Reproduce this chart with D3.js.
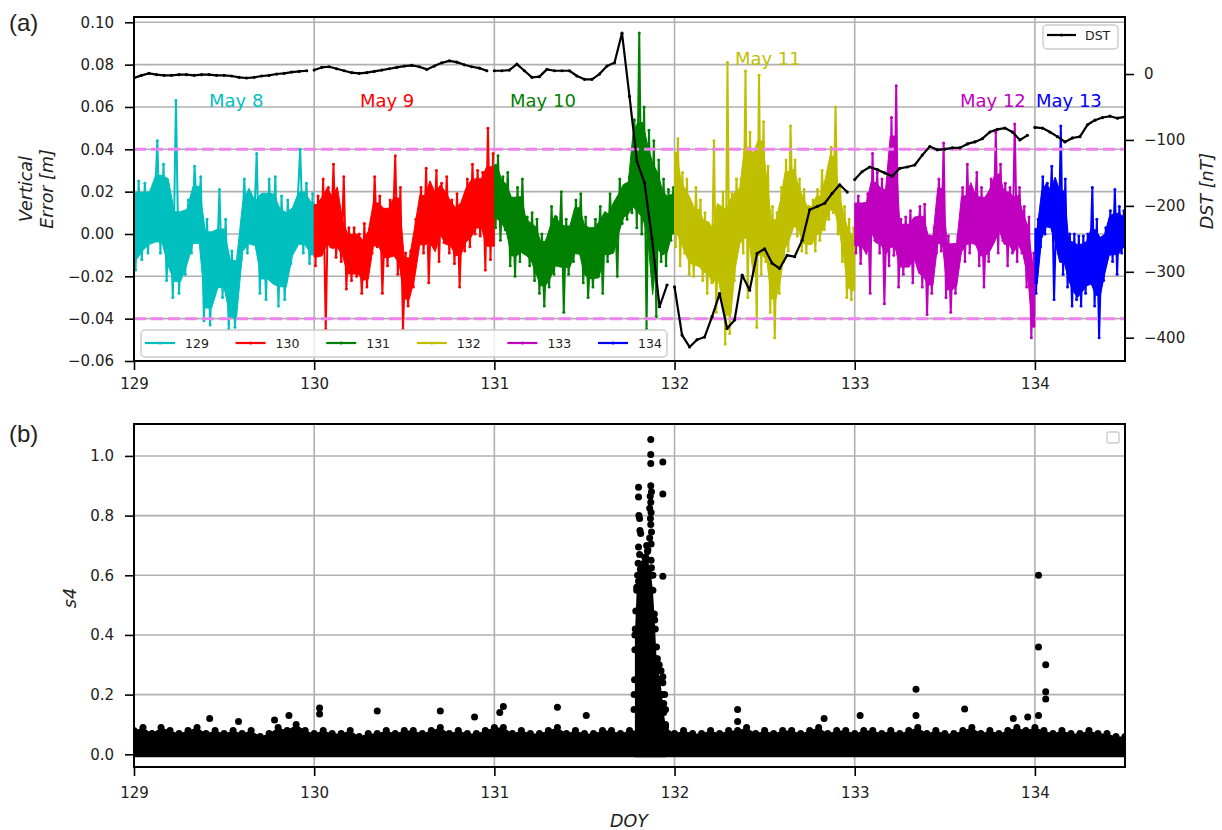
<!DOCTYPE html>
<html>
<head>
<meta charset="utf-8">
<script src="https://cdn.jsdelivr.net/npm/d3@7/dist/d3.min.js"></script>
<style>
body { margin: 0; background: #fff; }
</style>
</head>
<body>
<div class="canvas"></div>
<script>
// ---- data ----
const days = [129, 130, 131, 132, 133, 134];
const dayNames = ['129', '130', '131', '132', '133', '134'];
const dayColors = ['#00bfbf', '#ff0000', '#008000', '#bfbf00', '#bf00bf', '#0000ff'];

// vertical error envelope (m): high / low of the dense trace in each short slot of the day
const hi129 = [0.025,0.024,0.019,0.044,0.033,0.016,0.063,0.010,0.016,0.032,0.027,0.007,-0.001,0.021,0.007,-0.008,-0.008,0.026,0.019,0.038,0.018,0.026,0.027,0.018,0.016,0.010,0.040,0.024,0.019];
const lo129 = [-0.017,-0.012,-0.009,0.007,-0.009,-0.022,-0.030,-0.028,-0.019,-0.009,0.003,-0.041,-0.043,-0.025,-0.030,-0.045,-0.044,-0.012,-0.009,-0.001,-0.028,-0.031,-0.012,-0.034,-0.031,-0.014,0.010,-0.009,-0.014];
const hi130 = [0.018,0.026,0.022,0.033,0.010,0.027,0.003,0.003,0.000,0.005,-0.003,0.027,0.018,0.007,0.016,0.037,0.022,-0.009,-0.008,0.007,0.022,0.031,0.013,0.030,0.024,0.027,0.016,0.019,0.011,0.026,0.033,0.030,0.029,0.050,0.038];
const lo130 = [-0.015,-0.009,-0.045,-0.006,-0.011,-0.013,-0.026,-0.022,-0.020,-0.028,-0.025,-0.009,-0.006,-0.028,-0.015,0.002,-0.019,-0.045,-0.034,-0.025,0.000,-0.009,-0.023,0.000,-0.013,-0.004,-0.009,-0.014,-0.025,-0.008,-0.006,0.000,-0.001,-0.017,-0.012];
const hi131 = [0.037,0.027,0.029,0.016,0.022,0.026,0.008,0.010,0.007,0.000,-0.003,0.013,0.008,0.020,0.007,0.003,0.016,0.019,0.008,-0.008,0.007,0.013,0.010,0.019,0.013,0.026,0.022,0.027,0.054,0.095,0.060,0.049,0.044,0.035,0.026,0.021,0.022];
const lo131 = [0.003,-0.003,0.002,-0.015,-0.020,-0.013,-0.009,-0.015,-0.022,-0.028,-0.034,-0.025,-0.019,-0.009,-0.037,-0.019,-0.013,-0.009,-0.023,-0.030,-0.025,-0.009,-0.028,-0.013,-0.003,-0.020,0.005,0.007,0.010,0.003,0.000,-0.045,-0.009,-0.039,-0.013,-0.015,-0.003];
const hi132 = [0.045,0.029,0.026,0.011,0.022,0.016,0.010,0.003,0.044,0.007,0.020,0.081,0.019,0.026,0.026,0.077,0.048,0.030,0.075,0.053,0.032,0.013,0.010,0.022,0.035,0.051,0.035,0.026,0.021,0.013,0.016,0.021,0.030,0.019,0.041,0.060,0.022,0.013,0.007,0.003];
const lo132 = [-0.006,-0.015,-0.009,-0.019,-0.020,-0.013,-0.022,-0.028,-0.023,-0.037,-0.025,-0.052,-0.047,-0.022,-0.001,-0.009,-0.030,-0.006,-0.044,-0.019,-0.013,-0.037,-0.049,-0.028,-0.013,-0.008,0.007,-0.001,-0.008,-0.009,0.000,-0.008,-0.003,0.002,0.007,0.010,0.000,-0.013,-0.030,-0.031];
const hi133 = [0.018,0.013,0.019,0.038,0.029,0.026,0.013,0.055,0.070,0.007,0.008,0.011,0.007,0.013,0.014,-0.001,0.003,0.026,0.043,-0.001,-0.006,-0.001,0.022,0.033,0.019,0.029,0.022,0.007,0.026,0.048,0.033,0.024,0.022,0.052,0.022,0.013,0.008,-0.009];
const lo133 = [-0.009,-0.014,-0.001,-0.028,-0.003,-0.009,-0.033,-0.015,-0.010,-0.025,-0.019,-0.014,-0.023,-0.013,-0.025,-0.038,-0.028,-0.009,-0.008,-0.030,-0.037,-0.028,-0.009,-0.013,-0.009,0.007,-0.015,-0.025,-0.013,0.000,-0.009,-0.003,-0.015,-0.009,-0.013,-0.009,-0.025,-0.049];
const hi134 = [0.007,0.027,0.024,0.032,0.010,0.051,0.026,0.000,0.000,-0.001,-0.001,0.000,0.022,0.007,-0.009,0.003,0.011,0.021,0.013,0.011];
const lo134 = [-0.028,-0.006,0.000,0.007,-0.031,-0.009,-0.019,-0.025,-0.034,-0.031,-0.034,-0.028,-0.015,-0.034,-0.049,-0.022,-0.009,-0.013,-0.019,-0.009];

// hourly DST (nT)
const dst129 = [-6,-2,1,-1,-2,-2,-1,-1,-2,-1,-1,-2,-2,-3,-5,-6,-5,-3,-2,0,1,3,4,5];
const dst130 = [6,10,11,8,5,2,1,2,4,6,8,10,12,13,11,7,12,17,20,18,14,11,9,5];
const dst131 = [5,5,6,15,5,-5,-4,7,5,5,5,-3,-8,-8,0,12,17,62,-34,-133,-165,-250,-353,-320];
const dst132 = [-323,-396,-414,-403,-399,-368,-333,-386,-373,-305,-328,-272,-265,-287,-295,-275,-277,-252,-206,-201,-196,-181,-168,-179];
const dst133 = [-160,-148,-141,-145,-150,-155,-143,-141,-138,-123,-110,-115,-114,-112,-112,-106,-103,-98,-88,-84,-82,-88,-100,-93];
const dst134 = [-81,-82,-88,-95,-103,-97,-95,-77,-70,-66,-64,-67,-65];

// day labels
const monthText = ['May 8', 'May 9', 'May 10', 'May 11', 'May 12', 'May 13'];
const monthDoy = [129.416, 130.254, 131.087, 132.335, 133.584, 134.006];
const monthErr = [0.060, 0.060, 0.060, 0.080, 0.060, 0.060];

// s4: top of the dense band every 0.05 day from 129.00
const s4Top = [
  0.08,0.09,0.07,0.09,0.08,0.07,0.08,0.09,0.07,0.08,0.07,
  0.08,0.07,0.08,0.06,0.07,0.09,0.08,0.10,0.08,0.07,
  0.08,0.07,0.07,0.08,0.06,0.07,0.07,0.08,0.07,0.08,
  0.08,0.07,0.08,0.09,0.07,0.08,0.07,0.07,0.08,0.09,
  0.09,0.07,0.08,0.07,0.07,0.08,0.09,0.07,0.08,0.07,
  0.07,0.08,0.08,0.07,0.08,0.08,0.09,0.09,0.09,0.07,
  0.08,0.07,0.07,0.08,0.07,0.08,0.08,0.09,0.07,0.08,
  0.07,0.08,0.08,0.07,0.08,0.09,0.07,0.08,0.08,0.07,
  0.08,0.08,0.07,0.08,0.07,0.08,0.09,0.07,0.08,0.07,
  0.07,0.08,0.09,0.07,0.08,0.07,0.08,0.09,0.08,0.09,
  0.08,0.07,0.08,0.07,0.07,0.08,0.07,0.07,0.06,0.06
];
// solid core of the scintillation burst (every 0.01 day from 131.78)
const burstTop = [0.40,0.55,0.58,0.62,0.60,0.64,0.66,0.68,0.62,0.60,0.55,0.45,0.32,0.28,0.25,0.20,0.14,0.10];
// scattered s4 points
const s4Doy = [131.868,131.868,131.868,131.935,131.800,131.800,131.868,131.872,131.865,131.935,131.868,131.862,131.870,131.802,131.806,131.866,131.868,131.872,131.808,131.812,131.862,131.870,131.800,131.845,131.852,131.806,131.835,131.870,131.798,131.830,131.935,131.872,131.880,131.795,131.888,131.893,131.900,131.905,131.915,131.925,131.935,131.935,131.945,131.940,131.950,131.790,131.785,131.782,131.780,131.778,131.776,131.775,
  129.42,129.58,129.78,129.86,130.03,130.03,130.35,130.70,130.89,131.03,131.05,131.35,131.51,132.35,132.35,132.83,133.03,133.34,133.34,133.61,133.88,133.96,134.02,134.02,134.06,134.06,134.06,134.02];
const s4Val = [1.055,1.005,0.975,0.980,0.895,0.862,0.900,0.880,0.865,0.872,0.845,0.825,0.810,0.800,0.790,0.790,0.770,0.745,0.750,0.740,0.725,0.705,0.695,0.700,0.685,0.670,0.660,0.650,0.640,0.625,0.597,0.625,0.600,0.600,0.470,0.420,0.360,0.320,0.300,0.280,0.260,0.240,0.200,0.170,0.150,0.560,0.480,0.420,0.350,0.250,0.200,0.150,
  0.12,0.11,0.115,0.13,0.155,0.135,0.145,0.145,0.125,0.14,0.16,0.158,0.13,0.15,0.11,0.12,0.13,0.218,0.13,0.152,0.12,0.125,0.60,0.36,0.30,0.21,0.185,0.13];

// ticks
const errTicks = [-0.06, -0.04, -0.02, 0, 0.02, 0.04, 0.06, 0.08, 0.10];
const dstTicks = [-400, -300, -200, -100, 0];
const doyTicks = [129, 130, 131, 132, 133, 134];
const s4Ticks = [0, 0.2, 0.4, 0.6, 0.8, 1.0];
const limits = [0.04, -0.04];

// ---- drawing ----
const FONT = '"DejaVu Sans", sans-serif';
const svg = d3.select('.canvas').append('svg')
  .attr('width', 1222)
  .attr('height', 830)
  .style('font-family', FONT);

const x = d3.scaleLinear().domain([129, 134.5]).range([134, 1125]);
const yErr = d3.scaleLinear().domain([-0.06, 0.1025]).range([361, 17]);
const yDst = d3.scaleLinear().domain([-435.3, 86.5]).range([361, 17]);
const yS4 = d3.scaleLinear().domain([-0.0426, 1.107]).range([767, 424]);

const defs = svg.append('defs');
defs.append('clipPath').attr('id', 'clipTop').append('rect')
  .attr('x', 134).attr('y', 17).attr('width', 991).attr('height', 344);
defs.append('clipPath').attr('id', 'clipBot').append('rect')
  .attr('x', 134).attr('y', 424).attr('width', 991).attr('height', 343);

const gridColor = '#b0b0b0';

function grid(g, yScale, yTicks) {
  const [y0, y1] = yScale.range();
  g.append('g').selectAll('line').data(doyTicks).join('line')
    .attr('x1', d => x(d)).attr('x2', d => x(d))
    .attr('y1', y0).attr('y2', y1)
    .attr('stroke', gridColor).attr('stroke-width', 1.6);
  g.append('g').selectAll('line').data(yTicks).join('line')
    .attr('x1', 134).attr('x2', 1125)
    .attr('y1', d => yScale(d)).attr('y2', d => yScale(d))
    .attr('stroke', gridColor).attr('stroke-width', 1.6);
}

function styleAxis(g) {
  g.attr('font-family', FONT).attr('font-size', 15);
  g.select('.domain').remove();
  g.selectAll('.tick line').attr('stroke', '#000').attr('stroke-width', 1.6);
  g.selectAll('.tick text').attr('fill', '#222');
}

// 3-point running median, keeps single-slot spikes out of the filled core
function median3(arr) {
  return arr.map((v, i) => d3.median([arr[Math.max(i - 1, 0)], v, arr[Math.min(i + 1, arr.length - 1)]]));
}

// ===== panel (a) =====
const panelA = svg.append('g');
grid(panelA, yErr, errTicks);

const series = days.map((day, i) => ({
  day, name: dayNames[i], color: dayColors[i],
  hi: [hi129, hi130, hi131, hi132, hi133, hi134][i],
  lo: [lo129, lo130, lo131, lo132, lo133, lo134][i]
}));

const errLine = d3.line().x(d => x(d[0])).y(d => yErr(d[1]));
const errBand = d3.area().x(d => x(d.t)).y0(d => yErr(d.lo)).y1(d => yErr(d.hi));
const plotArea = panelA.append('g').attr('clip-path', 'url(#clipTop)');

series.forEach(s => {
  const end = Math.min(s.day + 1, 134.5);
  const step = (end - s.day) / s.hi.length;
  // filled core of the dense trace (a bit inside the extremes so the edges stay ragged)
  const mHi = median3(s.hi), mLo = median3(s.lo);
  const coreHi = mHi.map((h, i) => (h + mLo[i]) / 2 + 0.75 * (h - mLo[i]) / 2);
  const coreLo = mLo.map((l, i) => (mHi[i] + l) / 2 - 0.75 * (mHi[i] - l) / 2);
  const band = coreHi.map((h, i) => ({ t: s.day + (i + 0.5) * step, hi: h, lo: coreLo[i] }));
  band.unshift({ t: s.day, hi: coreHi[0], lo: coreLo[0] });
  band.push({ t: end, hi: coreHi[coreHi.length - 1], lo: coreLo[coreLo.length - 1] });
  plotArea.append('path').datum(band)
    .attr('d', errBand)
    .attr('fill', s.color)
    .attr('stroke', s.color).attr('stroke-width', 1);
  // the trace itself swinging between the extremes
  const pts = [];
  s.hi.forEach((h, i) => {
    pts.push([s.day + (i + 0.25) * step, s.lo[i]]);
    pts.push([s.day + (i + 0.75) * step, h]);
  });
  plotArea.append('path').datum(pts)
    .attr('d', errLine)
    .attr('fill', 'none')
    .attr('stroke', s.color)
    .attr('stroke-width', 2)
    .attr('stroke-linejoin', 'round');
  plotArea.append('g').selectAll('circle').data(pts).join('circle')
    .attr('cx', d => x(d[0])).attr('cy', d => yErr(d[1]))
    .attr('r', 1.5).attr('fill', s.color);
});

// +-4 cm limits
plotArea.selectAll('.limit').data(limits).join('line')
  .attr('class', 'limit')
  .attr('x1', 134).attr('x2', 1125)
  .attr('y1', d => yErr(d)).attr('y2', d => yErr(d))
  .attr('stroke', '#ee82ee').attr('stroke-width', 3)
  .attr('stroke-dasharray', '12,5');

// DST on the twin axis, one segment per day
const dstLine = d3.line().x(d => x(d[0])).y(d => yDst(d[1]));
[dst129, dst130, dst131, dst132, dst133, dst134].forEach((arr, i) => {
  const pts = arr.map((v, h) => [days[i] + h / 24, v]);
  plotArea.append('path').datum(pts)
    .attr('d', dstLine)
    .attr('fill', 'none').attr('stroke', '#000').attr('stroke-width', 2.2)
    .attr('stroke-linejoin', 'round');
  plotArea.append('g').selectAll('circle').data(pts).join('circle')
    .attr('cx', d => x(d[0])).attr('cy', d => yDst(d[1]))
    .attr('r', 1.6).attr('fill', '#000');
});

// day labels
panelA.append('g').selectAll('text').data(monthText).join('text')
  .attr('x', (d, i) => x(monthDoy[i]))
  .attr('y', (d, i) => yErr(monthErr[i]))
  .attr('font-size', 18)
  .attr('fill', (d, i) => dayColors[i])
  .text(d => d);

// axes
styleAxis(panelA.append('g').attr('transform', 'translate(134,0)')
  .call(d3.axisLeft(yErr).tickValues(errTicks).tickFormat(d3.format('.2f')).tickSize(9).tickPadding(11)));
styleAxis(panelA.append('g').attr('transform', 'translate(1125,0)')
  .call(d3.axisRight(yDst).tickValues(dstTicks).tickFormat(d3.format('d')).tickSize(9).tickPadding(10)));
styleAxis(panelA.append('g').attr('transform', 'translate(0,361)')
  .call(d3.axisBottom(x).tickValues(doyTicks).tickFormat(d3.format('d')).tickSize(9).tickPadding(8)));

panelA.append('rect')
  .attr('x', 134).attr('y', 17).attr('width', 991).attr('height', 344)
  .attr('fill', 'none').attr('stroke', '#000').attr('stroke-width', 2);

// legend for days
const legA = panelA.append('g');
legA.append('rect')
  .attr('x', 141).attr('y', 330).attr('width', 526).attr('height', 27).attr('rx', 4)
  .attr('fill', '#fff').attr('fill-opacity', 0.8)
  .attr('stroke', '#cccccc').attr('stroke-width', 1.4);
const legItem = legA.selectAll('g.item').data(series).join('g')
  .attr('class', 'item')
  .attr('transform', (d, i) => `translate(${145 + i * 90.6},343)`);
legItem.append('line').attr('x1', 0).attr('x2', 30).attr('y1', 0).attr('y2', 0)
  .attr('stroke', d => d.color).attr('stroke-width', 2.2);
legItem.append('circle').attr('cx', 15).attr('cy', 0).attr('r', 1.6).attr('fill', d => d.color);
legItem.append('text').attr('x', 40).attr('y', 4.5)
  .attr('font-size', 12.5).attr('fill', '#222').text(d => d.name);

// legend for DST
const legD = panelA.append('g');
legD.append('rect')
  .attr('x', 1043).attr('y', 25).attr('width', 75).attr('height', 24).attr('rx', 4)
  .attr('fill', '#fff').attr('fill-opacity', 0.8)
  .attr('stroke', '#cccccc').attr('stroke-width', 1.4);
legD.append('line').attr('x1', 1047).attr('x2', 1076).attr('y1', 35).attr('y2', 35)
  .attr('stroke', '#000').attr('stroke-width', 2.2);
legD.append('circle').attr('cx', 1061.5).attr('cy', 35).attr('r', 1.6).attr('fill', '#000');
legD.append('text').attr('x', 1085).attr('y', 40).attr('font-size', 12.5).attr('fill', '#222').text('DST');

// axis titles
const vt = panelA.append('text')
  .attr('transform', 'translate(35,189) rotate(-90)')
  .attr('text-anchor', 'middle')
  .attr('font-size', 17.5).attr('font-style', 'italic').attr('fill', '#222');
vt.append('tspan').attr('x', 0).attr('dy', '-0.15em').text('Vertical');
vt.append('tspan').attr('x', 0).attr('dy', '1.15em').text('Error [m]');
panelA.append('text')
  .attr('transform', 'translate(1213,191) rotate(-90)')
  .attr('text-anchor', 'middle')
  .attr('font-size', 17.5).attr('font-style', 'italic').attr('fill', '#222')
  .text('DST [nT]');
svg.append('text').attr('x', 9).attr('y', 31)
  .attr('font-family', '"Liberation Sans", Arial, sans-serif')
  .attr('font-size', 24).attr('fill', '#222').text('(a)');

// ===== panel (b) =====
const panelB = svg.append('g');
grid(panelB, yS4, s4Ticks);
const s4Area = panelB.append('g').attr('clip-path', 'url(#clipBot)');

const bandPts = s4Top.map((v, i) => [129 + i * 0.05, v]);
s4Area.append('path').datum(bandPts)
  .attr('d', d3.area().x(d => x(d[0])).y0(yS4(0) + 3).y1(d => yS4(d[1])))
  .attr('fill', '#000');
s4Area.append('g').selectAll('circle').data(bandPts).join('circle')
  .attr('cx', d => x(d[0])).attr('cy', d => yS4(d[1])).attr('r', 3.5).attr('fill', '#000');

const burstPts = burstTop.map((v, i) => [131.78 + i * 0.01, v]);
s4Area.append('path').datum(burstPts)
  .attr('d', d3.area().x(d => x(d[0])).y0(yS4(0) + 3).y1(d => yS4(d[1])))
  .attr('fill', '#000');
s4Area.append('g').selectAll('circle').data(burstPts).join('circle')
  .attr('cx', d => x(d[0])).attr('cy', d => yS4(d[1])).attr('r', 3.5).attr('fill', '#000');

s4Area.append('g').selectAll('circle').data(s4Doy).join('circle')
  .attr('cx', d => x(d)).attr('cy', (d, i) => yS4(s4Val[i])).attr('r', 3.5).attr('fill', '#000');

styleAxis(panelB.append('g').attr('transform', 'translate(134,0)')
  .call(d3.axisLeft(yS4).tickValues(s4Ticks).tickFormat(d3.format('.1f')).tickSize(9).tickPadding(11)));
styleAxis(panelB.append('g').attr('transform', 'translate(0,767)')
  .call(d3.axisBottom(x).tickValues(doyTicks).tickFormat(d3.format('d')).tickSize(9).tickPadding(11)));

panelB.append('rect')
  .attr('x', 134).attr('y', 424).attr('width', 991).attr('height', 343)
  .attr('fill', 'none').attr('stroke', '#000').attr('stroke-width', 2);

// empty legend box
panelB.append('rect')
  .attr('x', 1107).attr('y', 432).attr('width', 12).attr('height', 11).attr('rx', 2)
  .attr('fill', '#fff').attr('stroke', '#cccccc').attr('stroke-width', 1.4);

panelB.append('text')
  .attr('transform', 'translate(76,598) rotate(-90)')
  .attr('text-anchor', 'middle')
  .attr('font-size', 17.5).attr('font-style', 'italic').attr('fill', '#222')
  .text('s4');
panelB.append('text')
  .attr('x', 629).attr('y', 827)
  .attr('text-anchor', 'middle')
  .attr('font-size', 17.5).attr('font-style', 'italic').attr('fill', '#222')
  .text('DOY');
svg.append('text').attr('x', 9).attr('y', 442)
  .attr('font-family', '"Liberation Sans", Arial, sans-serif')
  .attr('font-size', 24).attr('fill', '#222').text('(b)');
</script>
</body>
</html>
